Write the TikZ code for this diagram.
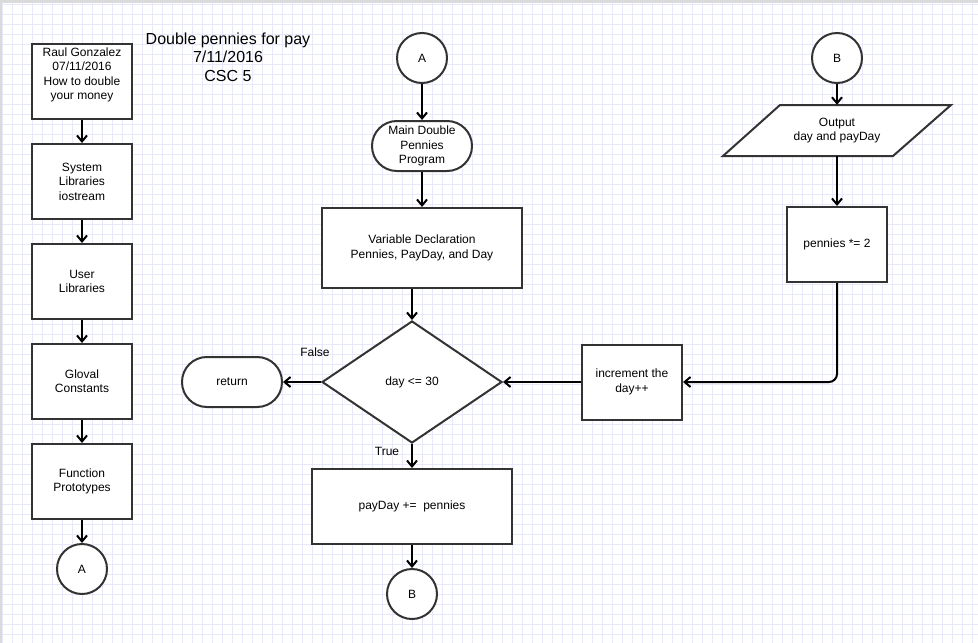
\documentclass[tikz,border=0pt]{standalone}
\usepackage{fontspec}
\setmainfont{Liberation Sans}
\usetikzlibrary{arrows.meta,shapes.geometric}
\definecolor{gridc}{RGB}{232,232,251}
\definecolor{edge}{RGB}{51,51,51}
\definecolor{framec}{RGB}{218,218,218}

\begin{document}
\begin{tikzpicture}[x=1pt,y=-1pt,
  lbl/.style={font=\fontsize{12}{14.4}\selectfont, align=center, text=black},
  proc/.style={lbl, draw=edge, line width=2pt, fill=white, rectangle,
    minimum width=100pt, minimum height=75pt, inner sep=0pt},
  term/.style={proc, minimum height=50pt, rounded corners=24.9pt},
  conn/.style={lbl, draw=edge, line width=2pt, fill=white, circle,
    minimum size=50pt, inner sep=0pt},
  dec/.style={lbl, draw=edge, line width=2pt, fill=white, diamond,
    minimum width=180pt, minimum height=122pt, inner sep=0pt},
  flow/.style={draw=black, line width=2pt, -{Straight Barb[length=6pt,width=10pt]}},
]
\useasboundingbox (0,0) rectangle (978,643);

% background grid
\fill[white] (0,0) rectangle (978,643);
\foreach \i in {0,...,97} \draw[gridc, line width=0.9pt] (2.3+10*\i,0) -- (2.3+10*\i,643);
\foreach \j in {0,...,64} \draw[gridc, line width=0.9pt] (0,4+10*\j) -- (978,4+10*\j);
\fill[framec] (0,0) rectangle (978,3);
\fill[framec] (0,0) rectangle (2,643);

% title
\node[lbl, font=\fontsize{16}{18.5}\selectfont] (title) at (228,57)
  {Double pennies for pay\\7/11/2016\\CSC 5};

% left column: program header
\node[proc] (n1) at (82,81.5) {};
\node[lbl] (n1t) at (82,75) {Raul Gonzalez\\07/11/2016\\How to double\\your money};
\node[proc] (n2) at (82,181.5) {System\\Libraries\\iostream};
\node[proc] (n3) at (82,281.5) {User\\Libraries};
\node[proc] (n4) at (82,381.5) {Gloval\\Constants};
\node[proc] (n5) at (82,481.5) {Function\\Prototypes};
\node[conn] (A1) at (82,569) {A};

\draw[flow] (n1) -- (n2);
\draw[flow] (n2) -- (n3);
\draw[flow] (n3) -- (n4);
\draw[flow] (n4) -- (n5);
\draw[flow] (n5) -- (A1);

% middle column: main loop
\node[conn] (A2) at (422,58) {A};
\node[term] (main) at (422,146) {Main Double\\Pennies\\Program};
\node[proc, minimum width=200pt, minimum height=80pt] (var) at (422,248)
  {Variable Declaration\\Pennies, PayDay, and Day};
\node[dec] (dia) at (412,382) {day <= 30};
\node[term] (ret) at (232,382) {return};
\node[proc, minimum width=200pt] (pay) at (412,506.5) {payDay +=~ pennies};
\node[conn] (B1) at (412,594) {B};
\node[lbl] (lf) at (315,352) {False};
\node[lbl] (lt) at (387,451) {True};

\draw[flow] (A2) -- (main);
\draw[flow] (main) -- (var);
\draw[flow] (dia.north |- var.south) -- (dia.north);
\draw[flow] (dia.west) -- (ret.east);
\draw[flow] (dia.south) -- (pay.north);
\draw[flow] (pay) -- (B1);

% right column: output and update
\node[conn] (B2) at (837,58) {B};
\draw[draw=edge, line width=2pt, fill=white, line join=miter]
  (780,105) -- (951,105) -- (893,156) -- (723,156) -- cycle;
\node[lbl, minimum width=114pt, minimum height=51pt, inner sep=0pt] (out) at (837,130.5)
  {Output\\day and payDay};
\node[proc] (pen) at (837,244.5) {pennies *= 2};
\node[proc] (inc) at (632,382) {increment the\\day++};

\draw[flow] (B2) -- (out.north);
\draw[flow] (out.south) -- (pen.north);
\draw[flow, rounded corners=8pt] (pen.south) |- (inc.east);
\draw[flow] (inc.west) -- (dia.east);
\end{tikzpicture}
\end{document}
